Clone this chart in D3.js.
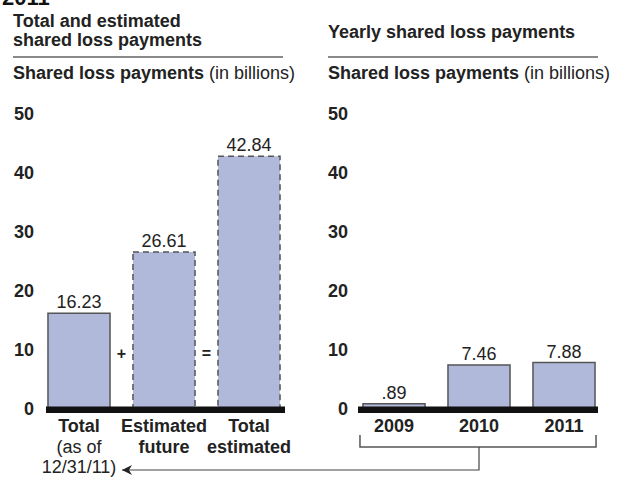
<!DOCTYPE html>
<html>
<head>
<meta charset="utf-8">
<script src="https://cdn.jsdelivr.net/npm/d3@7"></script>
<style>
  body { margin: 0; background: #fff; }
  svg { display: block; font-family: "Liberation Sans", Arial, sans-serif; }
</style>
</head>
<body>
<div id="chart"></div>
<script>
// Data
var leftCategories = ["Total (as of 12/31/11)", "Estimated future", "Total estimated"];
var leftValues = [16.23, 26.61, 42.84];
var leftDashed = [false, true, true];
var leftLabelLines = [["Total", "(as of", "12/31/11)"], ["Estimated", "future"], ["Total", "estimated"]];
var leftLabelBold = [[true, false, false], [true, true], [true, true]];
var operators = ["+", "="];

var years = ["2009", "2010", "2011"];
var yearValues = [0.89, 7.46, 7.88];

var yTicks = [0, 10, 20, 30, 40, 50];

var W = 624, H = 477;
var fill = "#b1b9db", barStroke = "#555", ink = "#222";
var fs = 18;

var svg = d3.select("#chart").append("svg")
    .attr("width", W)
    .attr("height", H);

// shared y scale
var y = d3.scaleLinear().domain([0, 50]).range([409, 114]);

// top cut-off fragment
svg.append("text")
    .attr("x", 2).attr("y", 5)
    .attr("font-size", 22).attr("font-weight", "bold").attr("fill", "#111")
    .text("2011");

function panelHeader(x0, x1, titleLines) {
    var t = svg.append("text")
        .attr("x", x0).attr("font-size", fs).attr("font-weight", "bold").attr("fill", ink);
    titleLines.forEach(function(l) {
        t.append("tspan").attr("x", x0).attr("y", l.y).text(l.text);
    });
    svg.append("line")
        .attr("x1", x0).attr("x2", x1).attr("y1", 57).attr("y2", 57)
        .attr("stroke", "#8a8a8a").attr("stroke-width", 2);
    var s = svg.append("text")
        .attr("x", x0).attr("y", 79).attr("font-size", fs).attr("fill", ink);
    s.append("tspan").attr("font-weight", "bold").text("Shared loss payments");
    s.append("tspan").text(" (in billions)");
}

function yAxis(xRight) {
    var g = svg.append("g")
        .attr("transform", "translate(" + xRight + ",0)")
        .call(d3.axisLeft(y).tickValues(yTicks).tickSize(0).tickPadding(0));
    g.attr("font-size", fs).attr("font-family", "Liberation Sans, Arial, sans-serif");
    g.select(".domain").remove();
    g.selectAll("text")
        .attr("font-weight", "bold").attr("fill", ink);
}

function fmt(v) {
    return d3.format(".2f")(v).replace(/^0\./, ".");
}

// ---------- Left panel ----------
panelHeader(13, 283, [{text: "Total and estimated", y: 27}, {text: "shared loss payments", y: 46}]);
yAxis(34);

var xL = d3.scaleBand().domain(leftCategories).range([36.5, 291.5])
    .paddingInner(0.27).paddingOuter(0.135);

svg.selectAll(".barL")
    .data(leftValues)
    .enter().append("rect")
    .attr("class", "barL")
    .attr("x", function(d, i) { return xL(leftCategories[i]); })
    .attr("y", function(d) { return y(d); })
    .attr("width", xL.bandwidth())
    .attr("height", function(d) { return y(0) - y(d); })
    .attr("fill", fill)
    .attr("stroke", barStroke)
    .attr("stroke-width", 1.5)
    .attr("stroke-dasharray", function(d, i) { return leftDashed[i] ? "6,4" : null; });

svg.selectAll(".valL")
    .data(leftValues)
    .enter().append("text")
    .attr("x", function(d, i) { return xL(leftCategories[i]) + xL.bandwidth() / 2; })
    .attr("y", function(d) { return y(d) - 5; })
    .attr("text-anchor", "middle").attr("font-size", fs).attr("fill", ink)
    .text(fmt);

// + and = between bars
svg.selectAll(".op")
    .data(operators)
    .enter().append("text")
    .attr("x", function(d, i) {
        return (xL(leftCategories[i]) + xL.bandwidth() + xL(leftCategories[i + 1])) / 2;
    })
    .attr("y", y(10) + 3)
    .attr("dy", "0.35em")
    .attr("text-anchor", "middle").attr("font-size", 16).attr("font-weight", "bold").attr("fill", ink)
    .text(function(d) { return d; });

svg.append("rect")
    .attr("x", 46).attr("y", 406.5).attr("width", 239).attr("height", 6.5).attr("fill", "#111");

leftLabelLines.forEach(function(lines, i) {
    var cx = xL(leftCategories[i]) + xL.bandwidth() / 2;
    var t = svg.append("text").attr("text-anchor", "middle").attr("font-size", fs).attr("fill", ink);
    lines.forEach(function(l, j) {
        t.append("tspan").attr("x", cx).attr("y", 432 + j * 20.5)
            .attr("font-weight", leftLabelBold[i][j] ? "bold" : "normal")
            .text(l);
    });
});

// ---------- Right panel ----------
panelHeader(328, 598, [{text: "Yearly shared loss payments", y: 38}]);
yAxis(348);

var xR = d3.scaleBand().domain(years).range([351.5, 606.5])
    .paddingInner(0.27).paddingOuter(0.135);

svg.selectAll(".barR")
    .data(yearValues)
    .enter().append("rect")
    .attr("class", "barR")
    .attr("x", function(d, i) { return xR(years[i]); })
    .attr("y", function(d) { return y(d); })
    .attr("width", xR.bandwidth())
    .attr("height", function(d) { return y(0) - y(d); })
    .attr("fill", fill)
    .attr("stroke", barStroke)
    .attr("stroke-width", 1.5);

svg.selectAll(".valR")
    .data(yearValues)
    .enter().append("text")
    .attr("x", function(d, i) { return xR(years[i]) + xR.bandwidth() / 2; })
    .attr("y", function(d) { return y(d) - 5; })
    .attr("text-anchor", "middle").attr("font-size", fs).attr("fill", ink)
    .text(fmt);

svg.append("rect")
    .attr("x", 358).attr("y", 406.5).attr("width", 240).attr("height", 6.5).attr("fill", "#111");

svg.selectAll(".yearLbl")
    .data(years)
    .enter().append("text")
    .attr("x", function(d) { return xR(d) + xR.bandwidth() / 2; })
    .attr("y", 432)
    .attr("text-anchor", "middle").attr("font-size", fs).attr("font-weight", "bold").attr("fill", ink)
    .text(function(d) { return d; });

// bracket and arrow back to the left total
var bx0 = xR(years[0]) - 3, bx1 = xR(years[2]) + xR.bandwidth() + 1;
var bmid = xR(years[1]) + xR.bandwidth() / 2;
svg.append("path")
    .attr("d", "M" + bx0 + ",435V447H" + bx1 + "V435")
    .attr("fill", "none").attr("stroke", "#555").attr("stroke-width", 1.5);

// arrow tip sits at x=10 of the marker box, so it points along the line
svg.append("defs").append("marker")
    .attr("id", "arrow").attr("viewBox", "0 0 10 10")
    .attr("refX", 10).attr("refY", 5)
    .attr("markerWidth", 11).attr("markerHeight", 10)
    .attr("markerUnits", "userSpaceOnUse")
    .attr("orient", "auto")
    .append("path").attr("d", "M0,0L10,5L0,10L3,5Z").attr("fill", "#222");

svg.append("path")
    .attr("d", "M" + bmid + ",447V470H122")
    .attr("fill", "none").attr("stroke", "#444").attr("stroke-width", 1.2)
    .attr("marker-end", "url(#arrow)");
</script>
</body>
</html>
